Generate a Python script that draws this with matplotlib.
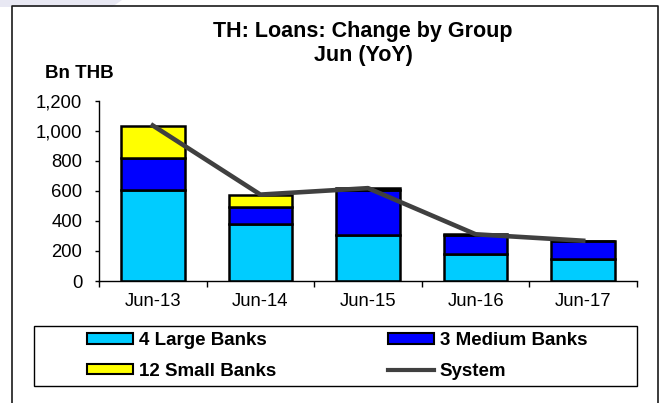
import matplotlib
matplotlib.use("Agg")
from matplotlib import pyplot as plt
from matplotlib.patches import Patch, Rectangle, Polygon
from matplotlib.lines import Line2D

categorie = ["Jun-13", "Jun-14", "Jun-15", "Jun-16", "Jun-17"]
grandi = [605, 379, 306, 178, 144]
medie = [211, 111, 302, 128, 119]
piccole = [217, 82, 9, 5, 4]
sistema = [1035, 575, 618, 311, 268]
y_ticks = [0, 200, 400, 600, 800, 1000, 1200]

plt.rcParams["font.family"] = ["Liberation Sans", "DejaVu Sans"]

W, H = 667, 403
fig = plt.figure(figsize=(W / 100, H / 100), dpi=100)
ax = fig.add_axes([99 / W, 1 - 281 / H, 538 / W, 180.3 / H])

c_grandi = "#00CCFF"
c_medie = "#0000FF"
c_piccole = "#FFFF00"
c_sistema = "#404040"

x = [i + 0.5 for i in range(len(categorie))]
larg = 0.59
base2 = [a + b for a, b in zip(grandi, medie)]
ax.bar(x, grandi, larg, color=c_grandi, edgecolor="black", linewidth=1.8, zorder=2)
ax.bar(x, medie, larg, bottom=grandi, color=c_medie, edgecolor="black", linewidth=1.8, zorder=2)
ax.bar(x, piccole, larg, bottom=base2, color=c_piccole, edgecolor="black", linewidth=1.8, zorder=2)
ax.plot(x, sistema, color=c_sistema, linewidth=3.3, zorder=3)

ax.set_xlim(0, 5)
ax.set_ylim(0, 1200)
ax.set_yticks(y_ticks)
ax.set_yticklabels([f"{v:,}" for v in y_ticks])
ax.set_xticks(range(6))
ax.set_xticklabels([])
ax.set_xticks(x, minor=True)
ax.set_xticklabels(categorie, minor=True)
ax.tick_params(axis="y", length=3, width=1, direction="out", pad=9, labelsize=13.3)
ax.tick_params(axis="x", which="major", length=4, width=1, direction="out")
ax.tick_params(axis="x", which="minor", length=0, pad=9, labelsize=13.3)
for s in ["top", "right"]:
    ax.spines[s].set_visible(False)
for s in ["left", "bottom"]:
    ax.spines[s].set_linewidth(1)

fig.text(363 / W, 1 - 31 / H, "TH: Loans: Change by Group", ha="center", va="center",
         fontsize=15.5, fontweight="bold")
fig.text(363 / W, 1 - 56 / H, "Jun (YoY)", ha="center", va="center",
         fontsize=15.5, fontweight="bold")
fig.text(45 / W, 1 - 73 / H, "Bn THB", ha="left", va="center", fontsize=13.5, fontweight="bold")

# decorazione in alto a sinistra
fig.add_artist(Polygon([(0, 1), (122 / W, 1), (112 / W, 1 - 7 / H), (0, 1 - 7 / H)],
                       closed=True, transform=fig.transFigure, facecolor="#E8E8F3",
                       edgecolor="none", zorder=0))
# cornice esterna
fig.add_artist(Line2D([12 / W, 12 / W, 658 / W, 658 / W], [-0.05, 1 - 6 / H, 1 - 6 / H, -0.05],
                      transform=fig.transFigure, color="#1a1a1a", linewidth=1.2))
# riquadro legenda
fig.add_artist(Rectangle((34 / W, 1 - 386 / H), 603 / W, 60 / H, transform=fig.transFigure,
                         facecolor="none", edgecolor="black", linewidth=1))

h_grandi = Patch(facecolor=c_grandi, edgecolor="black", linewidth=1.5)
h_medie = Patch(facecolor=c_medie, edgecolor="black", linewidth=1.5)
h_piccole = Patch(facecolor=c_piccole, edgecolor="black", linewidth=1.5)
h_sistema = Line2D([], [], color=c_sistema, linewidth=3)

opts = dict(frameon=False, borderpad=0, borderaxespad=0, handlelength=2.45, handleheight=0.5,
            handletextpad=0.3, labelspacing=0.72, prop={"size": 13.5, "weight": "bold"})
leg1 = fig.legend([h_grandi, h_piccole], ["4 Large Banks", "12 Small Banks"],
                  loc="center left", bbox_to_anchor=(87 / W, 1 - 356 / H), **opts)
leg2 = fig.legend([h_medie, h_sistema], ["3 Medium Banks", "System"],
                  loc="center left", bbox_to_anchor=(388 / W, 1 - 356 / H), **opts)

plt.savefig("out.png", dpi=100)
